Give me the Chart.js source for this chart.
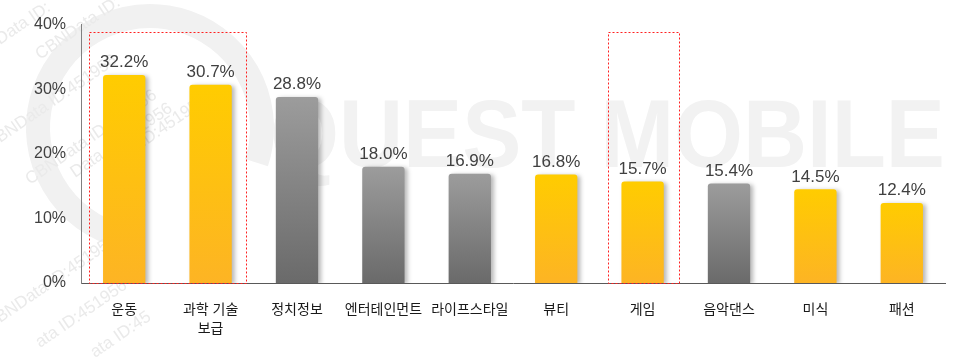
<!DOCTYPE html>
<html><head><meta charset="utf-8">
<script src="https://cdn.jsdelivr.net/npm/chart.js@4/dist/chart.umd.min.js"></script>
<style>html,body{margin:0;padding:0;background:#fff}#wrap{width:966px;height:358px}</style>
</head><body><div id="wrap"><canvas id="c" width="966" height="358"></canvas></div>
<script>
const categories = ['운동', ['과학 기술','보급'], '정치정보', '엔터테인먼트', '라이프스타일', '뷰티', '게임', '음악댄스', '미식', '패션'];
const values = [32.2, 30.7, 28.8, 18.0, 16.9, 16.8, 15.7, 15.4, 14.5, 12.4];
const isGray = [false, false, true, true, true, false, false, true, false, false];
const highlightGroups = [[0, 1], [6, 6]];
const yTicks = [0, 10, 20, 30, 40];

const FONT = '"Liberation Sans", Arial, "Noto Sans CJK KR", sans-serif';

function barGradient(ctx) {
  const chart = ctx.chart;
  const ys = chart.scales.y;
  const gray = isGray[ctx.dataIndex];
  if (!ys || !chart.chartArea || ctx.type !== 'data') return gray ? '#888888' : '#FFC400';
  const v = values[ctx.dataIndex];
  const top = ys.getPixelForValue(v);
  const bot = ys.getPixelForValue(0);
  if (!isFinite(top) || !isFinite(bot)) return gray ? '#888888' : '#FFC400';
  const g = chart.ctx.createLinearGradient(0, top, 0, bot);
  if (gray) {
    g.addColorStop(0, '#9c9c9c');
    g.addColorStop(1, '#6a6a6a');
  } else {
    g.addColorStop(0, '#FFCC00');
    g.addColorStop(1, '#FDB424');
  }
  return g;
}

const watermark = {
  id: 'watermark',
  beforeDraw(chart) {
    const c = chart.ctx;
    c.save();
    c.strokeStyle = '#f1f1f1';
    c.lineWidth = 24;
    c.beginPath();
    c.arc(150, 128, 112, Math.PI * 0.55, Math.PI * 2.1);
    c.stroke();
    c.fillStyle = '#f2f2f2';
    c.font = 'bold 97px ' + FONT;
    c.textBaseline = 'alphabetic';
    const txt = 'QUEST MOBILE';
    const w = c.measureText(txt).width;
    c.save();
    c.translate(270, 167);
    c.scale(675 / w, 1);
    c.fillText(txt, 0, 0);
    c.restore();
    c.fillStyle = '#eaeaea';
    c.font = '17px ' + FONT;
    const marks = [[0, 45, 'Data ID:'], [40, 60, 'CBNData ID:'], [-10, 150, 'CBNData ID:451956'], [30, 185, 'CBNData ID:451956'], [75, 178, 'Data ID:451956'], [110, 170, 'Data ID:451956'],
                   [-10, 330, 'CBNData ID:451956'], [40, 348, 'ata ID:451956'], [95, 358, 'ata ID:45']];
    marks.forEach(m => { c.save(); c.translate(m[0], m[1]); c.rotate(-0.6); c.fillText(m[2], 0, 0); c.restore(); });
    c.restore();
  }
};

const shadow = {
  id: 'shadow',
  beforeDatasetsDraw(chart) {
    const c = chart.ctx;
    c.save();
    c.shadowColor = 'rgba(0,0,0,0.28)';
    c.shadowBlur = 4;
    c.shadowOffsetX = 3;
    c.shadowOffsetY = 1;
  },
  afterDatasetsDraw(chart) { chart.ctx.restore(); }
};

const labels = {
  id: 'labels',
  afterDatasetsDraw(chart) {
    const c = chart.ctx;
    const meta = chart.getDatasetMeta(0);
    c.save();
    c.fillStyle = '#404040';
    c.font = '17px ' + FONT;
    c.textAlign = 'center';
    c.textBaseline = 'bottom';
    meta.data.forEach((bar, i) => {
      c.fillText(values[i].toFixed(1) + '%', bar.x, bar.y - 4);
    });
    c.restore();
  }
};

const boxes = {
  id: 'boxes',
  afterDraw(chart) {
    const c = chart.ctx;
    const xs = chart.scales.x, ys = chart.scales.y;
    c.save();
    c.strokeStyle = '#ff2020';
    c.lineWidth = 1;
    c.setLineDash([2, 2]);
    highlightGroups.forEach(g => {
      const l = xs.getPixelForValue(g[0]) - 35;
      const r = xs.getPixelForValue(g[1]) + 36;
      const t = ys.getPixelForValue(38.8);
      const b = ys.getPixelForValue(0);
      c.strokeRect(Math.round(l) + 0.5, Math.round(t) + 0.5, Math.round(r - l), Math.round(b - t));
    });
    c.restore();
  }
};

new Chart(document.getElementById('c'), {
  type: 'bar',
  data: {
    labels: categories,
    datasets: [{
      data: values,
      backgroundColor: barGradient,
      borderRadius: 3,
      borderSkipped: 'bottom',
      barPercentage: 0.49,
      categoryPercentage: 1.0
    }]
  },
  options: {
    responsive: false,
    animation: false,
    devicePixelRatio: 1,
    layout: { padding: { top: 23, right: 21, bottom: 0, left: 0 } },
    plugins: { legend: { display: false }, tooltip: { enabled: false } },
    scales: {
      x: {
        grid: { display: false, drawTicks: false },
        border: { display: true, color: '#595959', width: 1 },
        ticks: { color: '#1a1a1a', font: { size: 14, family: FONT, lineHeight: 1.4 }, padding: 17, maxRotation: 0, autoSkip: false },
        afterFit(s) { s.height = 75; }
      },
      y: {
        min: 0, max: 40,
        grid: { display: false, drawTicks: false },
        border: { display: true, color: '#7f7f7f', width: 1 },
        afterBuildTicks(s) { s.ticks = yTicks.map(v => ({ value: v })); },
        ticks: { color: '#404040', font: { size: 16, family: FONT }, padding: 15, callback: v => v + '%' },
        afterFit(s) { s.width = 81; }
      }
    }
  },
  plugins: [watermark, shadow, labels, boxes]
});
</script></body></html>
